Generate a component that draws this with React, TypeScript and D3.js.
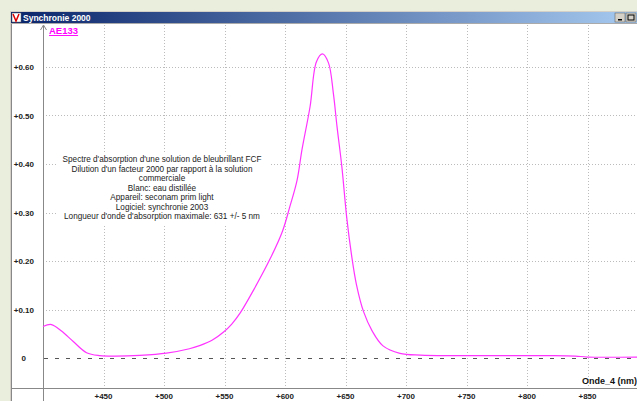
import React from "react";
import * as d3 from "d3";

const wavelengths = [400, 407, 415, 425, 436, 447, 460, 480, 502, 521, 530, 540, 549, 556, 563, 574, 588, 598, 604, 610, 614, 620.7, 626, 631, 636, 640, 643, 647, 651, 655, 659, 665, 672, 681, 695, 712, 740, 780, 820, 840, 850, 891];
const absorbance = [0.065, 0.069, 0.056, 0.034, 0.011, 0.005, 0.004, 0.0055, 0.010, 0.019, 0.026, 0.037, 0.053, 0.07, 0.093, 0.140, 0.206, 0.262, 0.312, 0.367, 0.429, 0.518, 0.611, 0.627, 0.608, 0.545, 0.477, 0.394, 0.29, 0.212, 0.152, 0.095, 0.056, 0.025, 0.0097, 0.006, 0.005, 0.005, 0.005, 0.004, 0.002, 0.002];
const xTicks = [450, 500, 550, 600, 650, 700, 750, 800, 850];
const xTickLabels = ["+450", "+500", "+550", "+600", "+650", "+700", "+750", "+800", "+850"];
const yTicks = [0, 0.1, 0.2, 0.3, 0.4, 0.5, 0.6];
const yTickLabels = ["0", "+0.10", "+0.20", "+0.30", "+0.40", "+0.50", "+0.60"];
const noteLines = [
  "Spectre d'absorption d'une solution de bleubrillant FCF",
  "Dilution d'un facteur 2000 par rapport à la solution",
  "commerciale",
  "Blanc: eau distillée",
  "Appareil: seconam prim light",
  "Logiciel: synchronie 2003",
  "Longueur d'onde d'absorption maximale: 631 +/- 5 nm",
];
const seriesName = "AE133";
const xAxisTitle = "Onde_4 (nm)";
const windowTitle = "Synchronie 2000";

export default function App() {
  const W = 637, H = 401;
  const x = d3.scaleLinear().domain([400, 450]).range([43, 103.5]);
  const y = d3.scaleLinear().domain([0, 0.6]).range([358, 67]);
  const pts = wavelengths.map((w, i) => [w, absorbance[i]] as [number, number]);
  const line = d3.line<[number, number]>().x(d => x(d[0])).y(d => y(d[1])).curve(d3.curveCatmullRom.alpha(0.5));
  const font = "'Liberation Sans', Arial, sans-serif";
  return (
    <svg width={W} height={H} style={{ position: "absolute", left: 0, top: 0 }} fontFamily={font}>
      <defs>
        <linearGradient id="tb" x1="0" x2="1" y1="0" y2="0">
          <stop offset="0" stopColor="#0a246a" />
          <stop offset="1" stopColor="#a6caf0" />
        </linearGradient>
      </defs>
      <rect x={0} y={0} width={W} height={H} fill="#e9efdc" />
      <rect x={10} y={11} width={W - 10} height={H - 11} fill="#d4d0c8" />
      <rect x={11} y={12} width={W - 11} height={11} fill="url(#tb)" />
      <rect x={12} y={13} width={9} height={9} fill="#ffffff" stroke="#666" strokeWidth={0.5} />
      <path d="M13,14 L16,21 L19,14" fill="none" stroke="#d00" strokeWidth={1.5} />
      <text x={23} y={21} fill="#fff" fontWeight="bold" fontSize={8.5}>{windowTitle}</text>
      <rect x={615} y={13} width={10} height={9} fill="#d4d0c8" stroke="#555" strokeWidth={0.5} />
      <rect x={618} y={19} width={4} height={1.5} fill="#000" />
      <rect x={626} y={13} width={10} height={9} fill="#d4d0c8" stroke="#555" strokeWidth={0.5} />
      <rect x={628} y={15} width={6} height={5} fill="none" stroke="#000" strokeWidth={1} />
      <rect x={12} y={24} width={W - 12} height={H - 24} fill="#ffffff" />
      <line x1={11.5} x2={11.5} y1={23} y2={H} stroke="#888" />
      <line x1={11} x2={W} y1={23.5} y2={23.5} stroke="#aaa" />
      {/* grid */}
      {yTicks.filter(t => t > 0).map(t => (
        <line key={"gy" + t} x1={43} x2={W} y1={Math.round(y(t)) + 0.5} y2={Math.round(y(t)) + 0.5} stroke="#bbb" strokeDasharray="1,2" />
      ))}
      {xTicks.map(t => (
        <line key={"gx" + t} x1={Math.round(x(t)) + 0.5} x2={Math.round(x(t)) + 0.5} y1={25} y2={388} stroke="#bbb" strokeDasharray="1,2" />
      ))}
      {/* zero dashed */}
      <line x1={44} x2={W} y1={y(0) + 0.5} y2={y(0) + 0.5} stroke="#555" strokeDasharray="4,7" />
      {/* axes */}
      <line x1={43.5} x2={43.5} y1={26} y2={H} stroke="#888" />
      <path d="M40.5,30 L43.5,25 L46.5,30" fill="none" stroke="#888" />
      <line x1={11} x2={W} y1={388.5} y2={388.5} stroke="#888" />
      {/* y labels */}
      {yTicks.map((t, i) => (
        <text key={"yl" + t} x={i === 0 ? 26 : 34} y={y(t) + 3} textAnchor="end" fontSize={8} fontWeight="bold" fill="#222">{yTickLabels[i]}</text>
      ))}
      {xTicks.map((t, i) => (
        <text key={"xl" + t} x={x(t)} y={399} textAnchor="middle" fontSize={8} fontWeight="bold" fill="#222">{xTickLabels[i]}</text>
      ))}
      <text x={W} y={384} textAnchor="end" fontSize={9} fontWeight="bold" fill="#111">{xAxisTitle}</text>
      <text x={49} y={34} fontSize={9.5} fontWeight="bold" fill="#ff00ff" textDecoration="underline">{seriesName}</text>
      {/* annotation */}
      <rect x={57} y={153} width={212} height={72} fill="#fff" />
      {noteLines.map((l, i) => (
        <text key={"n" + i} x={162} y={162 + i * 9.5} textAnchor="middle" fontSize={8.2} fill="#222">{l}</text>
      ))}
      {/* curve */}
      <path d={line(pts) || ""} fill="none" stroke="#ff33ff" strokeWidth={1.2} />
    </svg>
  );
}
